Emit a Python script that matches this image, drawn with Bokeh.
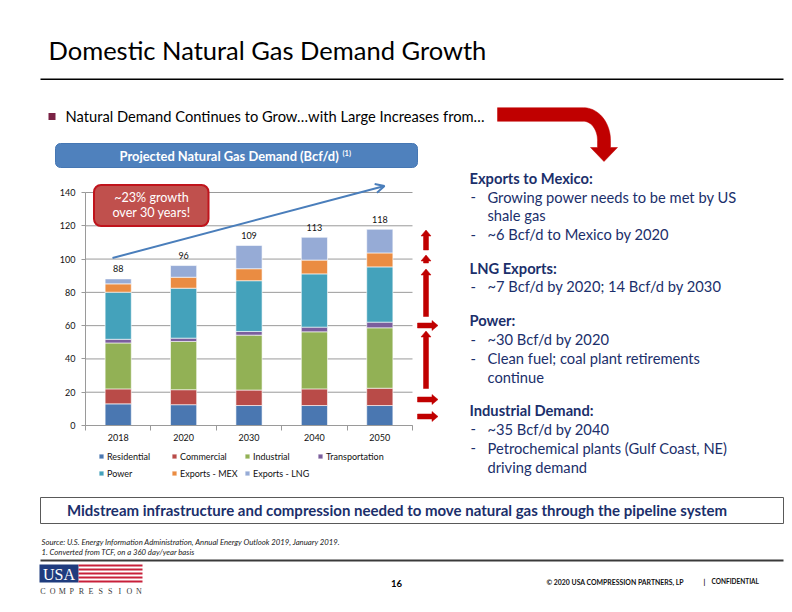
import numpy as np
from bokeh.plotting import figure
from bokeh.models import (Range1d, FixedTicker, Label, BoxAnnotation, PolyAnnotation,
                          Arrow, OpenHead, Legend, LegendItem, ColumnDataSource, LinearAxis)
from bokeh.core.properties import value
from bokeh.embed import file_html
from bokeh.resources import INLINE

# ---------------- data ----------------
years = ["2018", "2020", "2030", "2040", "2050"]
residential = [13.0, 12.5, 12.0, 12.0, 12.0]
commercial = [9.0, 9.0, 9.3, 10.0, 10.4]
industrial = [27.6, 29.0, 33.0, 34.3, 36.3]
transportation = [2.2, 2.0, 2.2, 2.8, 3.4]
power = [28.3, 30.0, 30.5, 32.0, 33.2]
exports_mex = [5.0, 6.6, 7.2, 8.3, 8.4]
exports_lng = [3.0, 7.0, 14.0, 13.7, 14.2]
total_labels = ["88", "96", "109", "113", "118"]
y_ticks = [0, 20, 40, 60, 80, 100, 120, 140]
series_names = ["Residential", "Commercial", "Industrial", "Transportation",
                "Power", "Exports - MEX", "Exports - LNG"]
series_colors = ["#4A77B1", "#B94B48", "#92B155", "#7B5E9D",
                 "#44A2BB", "#EA8C42", "#96ABD6"]

FONT = "Lato"
NAVY = "#1B2F6B"
RED = "#C00000"
GRAY = "#9A9A9A"

W, H = 788, 606
FL, FR, FT, FB = 85, 412, 192, 425   # chart plot area in page pixels
KX = (FR - FL) / len(years)          # px per category
KY = (FB - FT) / 140.0               # px per Bcf/d

p = figure(width=W, height=H, x_range=Range1d(0, W), y_range=Range1d(H, 0),
           x_axis_type=None, y_axis_type=None, min_border=0,
           output_backend="svg", toolbar_location=None, tools="")
p.extra_x_ranges = {"cx": Range1d(-0.5 - FL / KX, -0.5 + (W - FL) / KX)}
p.extra_y_ranges = {"cy": Range1d((FB - H) / KY, FB / KY)}
p.outline_line_color = None
p.background_fill_color = "white"
p.border_fill_color = "white"
p.xgrid.visible = False
p.ygrid.visible = False

# ---------------- chart ----------------
x_idx = list(range(len(years)))
p.segment(x0=-0.5, x1=len(years) - 0.5, y0=y_ticks, y1=y_ticks,
          x_range_name="cx", y_range_name="cy", line_color=GRAY, line_width=1)

keys = ["residential", "commercial", "industrial", "transportation",
        "power", "exports_mex", "exports_lng"]
src = ColumnDataSource(dict(x=x_idx, residential=residential, commercial=commercial,
                            industrial=industrial, transportation=transportation,
                            power=power, exports_mex=exports_mex, exports_lng=exports_lng))
renderers = p.vbar_stack(keys, x="x", width=0.4, fill_color=series_colors,
                         line_color="white", line_width=0.6, source=src,
                         x_range_name="cx", y_range_name="cy")

tops = np.sum([residential, commercial, industrial, transportation, power,
               exports_mex, exports_lng], axis=0)
p.text(x=x_idx, y=list(tops), text=total_labels, text_font=value(FONT),
       text_font_size="9px", text_align="center", text_baseline="middle",
       y_offset=-10, text_color="#111111", x_range_name="cx", y_range_name="cy")

xa = LinearAxis(x_range_name="cx", y_range_name="cy", fixed_location=0,
                bounds=(-0.5, len(years) - 0.5),
                ticker=FixedTicker(ticks=x_idx,
                                   minor_ticks=[i - 0.5 for i in range(len(years) + 1)]))
xa.major_label_overrides = {i: y for i, y in enumerate(years)}
xa.major_tick_line_color = None
xa.major_tick_out = 0
xa.major_tick_in = 0
xa.minor_tick_out = 5
xa.minor_tick_in = 0
xa.minor_tick_line_color = GRAY
xa.axis_line_color = GRAY
xa.major_label_text_font = FONT
xa.major_label_text_font_size = "9px"
xa.major_label_text_color = "#111111"
xa.major_label_standoff = 3
p.add_layout(xa, "below")

ya = LinearAxis(x_range_name="cx", y_range_name="cy", fixed_location=-0.5,
                bounds=(0, 140), ticker=FixedTicker(ticks=y_ticks))
ya.major_tick_out = 4
ya.major_tick_in = 0
ya.major_tick_line_color = GRAY
ya.minor_tick_line_color = None
ya.axis_line_color = GRAY
ya.major_label_text_font = FONT
ya.major_label_text_font_size = "9px"
ya.major_label_text_color = "#111111"
ya.major_label_standoff = 6
p.add_layout(ya, "left")

legend = Legend(items=[LegendItem(label=n, renderers=[r]) for n, r in zip(series_names, renderers)],
                orientation="horizontal", ncols=4, location=(98, H - 480),
                margin=0, padding=0, spacing=3, label_standoff=3,
                glyph_width=6, glyph_height=6, label_height=14, label_width=61,
                label_text_font=FONT, label_text_font_size="9px", label_text_color="#111111",
                border_line_color=None, background_fill_alpha=0)
p.add_layout(legend)

# ---------------- helpers (page-pixel decorations) ----------------
def label(x, y, text, size, color="black", style="normal", align="left", font=FONT):
    # y is the text baseline in page pixels; placed by its visual middle
    p.add_layout(Label(x=x, y=y - 0.35 * size, text=text,
                       text_font=font, text_font_size=f"{size}px", text_color=color,
                       text_font_style=style, text_align=align, text_baseline="middle"))

def box(l, r, t, b, fill, line=None, lw=1, radius=0):
    p.add_layout(BoxAnnotation(left=l, right=r, top=t, bottom=b,
                               fill_color=fill, fill_alpha=1 if fill else 0,
                               line_color=line, line_alpha=1, line_width=lw,
                               border_radius=radius, level="annotation"))

def poly(xs, ys, fill):
    p.add_layout(PolyAnnotation(xs=list(xs), ys=list(ys),
                                fill_color=fill, fill_alpha=1, line_color=fill,
                                line_alpha=1, line_width=0.5))

def block_arrow(x0, y0, x1, y1, shaft=5, head_w=10, head_l=6):
    d = np.array([x1 - x0, y1 - y0], dtype=float)
    L = np.hypot(*d)
    u = d / L
    n = np.array([-u[1], u[0]])
    a = np.array([x0, y0], dtype=float)
    tip = np.array([x1, y1], dtype=float)
    base = tip - u * head_l
    pts = [a + n * shaft / 2, base + n * shaft / 2, base + n * head_w / 2, tip,
           base - n * head_w / 2, base - n * shaft / 2, a - n * shaft / 2]
    poly([q[0] for q in pts], [q[1] for q in pts], RED)

# ---------------- title & bullet ----------------
label(48, 58, "Domestic Natural Gas Demand Growth", 25.5, "black")
box(40, 783, 78, 79.5, "black")
box(48, 55, 112.5, 119.5, "#7A2245")
label(65, 121, "Natural Demand Continues to Grow\u2026with Large Increases from\u2026", 14.7, "black")

# curved red arrow
hw = 6.8
cx, cy = 583, 140
th = np.linspace(-np.pi / 2, 0, 24)
outer_x = cx + 27 * np.cos(th)
outer_y = cy + (cy - (114 - hw)) * np.sin(th)
inner_x = cx + 14 * np.cos(th[::-1])
inner_y = cy + (cy - (114 + hw)) * np.sin(th[::-1])
xs = [497] + list(outer_x) + [cx + 27, 617, 603.5, 590, cx + 14] + list(inner_x) + [497]
ys = [114 - hw] + list(outer_y) + [147, 147, 161, 147, 147] + list(inner_y) + [114 + hw]
poly(xs, ys, RED)

# chart header bar
box(55, 417, 143, 167, "#4F81BD", line="#4677B3", lw=1, radius=5)
label(119, 160, "Projected Natural Gas Demand (Bcf/d)", 12.9, "white", "bold")
label(342, 155.5, "(1)", 7.5, "white", "bold")

# growth arrow
p.add_layout(Arrow(x_start=112, y_start=257.5, x_end=384, y_end=185.5,
                   line_color="#4A7EBB", line_width=2,
                   end=OpenHead(size=9, line_color="#4A7EBB", line_width=2)))

# callout
box(93.5, 208, 184.5, 225.5, "#C0504D", line="#C0141C", lw=2, radius=7)
label(151, 201.5, "~23% growth", 12.6, "white", align="center")
label(151, 216.5, "over 30 years!", 12.6, "white", align="center")

# red arrows beside chart
block_arrow(425.5, 249.5, 425.5, 229.5)
block_arrow(425.5, 262.5, 425.5, 254.5)
block_arrow(425.5, 316, 425.5, 268.5)
block_arrow(417, 325, 437.5, 325)
block_arrow(425.5, 388, 425.5, 330.5)
block_arrow(417, 399, 437.5, 399)
block_arrow(417, 416, 437.5, 416)

# right text block
right_lines = [
    ("h", "Exports to Mexico:", 183),
    ("d", "Growing power needs to be met by US", 201.5),
    ("c", "shale gas", 220),
    ("d", "~6 Bcf/d to Mexico by 2020", 239),
    ("h", "LNG Exports:", 272.5),
    ("d", "~7 Bcf/d by 2020; 14 Bcf/d by 2030", 291),
    ("h", "Power:", 325),
    ("d", "~30 Bcf/d by 2020", 344),
    ("d", "Clean fuel; coal plant retirements", 363),
    ("c", "continue", 382),
    ("h", "Industrial Demand:", 414.5),
    ("d", "~35 Bcf/d by 2040", 433.5),
    ("d", "Petrochemical plants (Gulf Coast, NE)", 452.5),
    ("c", "driving demand", 471.5),
]
for kind, txt, yb in right_lines:
    if kind == "h":
        label(469, yb, txt, 14.7, NAVY, "bold")
    else:
        if kind == "d":
            label(470, yb, "-", 14.7, NAVY)
        label(487, yb, txt, 14.7, NAVY)

# bottom message box
box(40, 783, 497, 523, "white", line="#595959", lw=1)
label(396.5, 514.5, "Midstream infrastructure and compression needed to move natural gas through the pipeline system",
      15, NAVY, "bold", align="center")

# source notes
label(41, 544.5, "Source: U.S. Energy Information Administration, Annual Energy Outlook 2019, January 2019.",
      7.75, "#222222", "italic")
label(41, 554.5, "1.  Converted from TCF, on a 360 day/year basis", 7.75, "#222222", "italic")
box(40, 783, 559, 561, "#3A3A3A")

# logo
box(39, 78, 564, 582, "#1F3C7E")
for k in range(5):
    box(78, 142, 564 + 4 * k, 566 + 4 * k, "#C8203A")
label(58.5, 580, "USA", 16, "white", align="center", font="Liberation Serif")
for k, ch in enumerate("COMPRESSION"):
    label(42.5 + 9.6 * k, 594, ch, 8, "#3A3A3A", align="center", font="Liberation Serif")

# footer
label(396, 586.5, "16", 9.5, "black", "bold", align="center")
label(546, 583.5, "\u00a9 2020 USA COMPRESSION PARTNERS, LP", 6.9, "#111111", "bold")
label(704, 583.5, "|", 6.9, "#111111", "bold", align="center")
label(711, 583.5, "CONFIDENTIAL", 6.5, "#111111", "bold")

open("out.html", "w").write(file_html(p, INLINE))
